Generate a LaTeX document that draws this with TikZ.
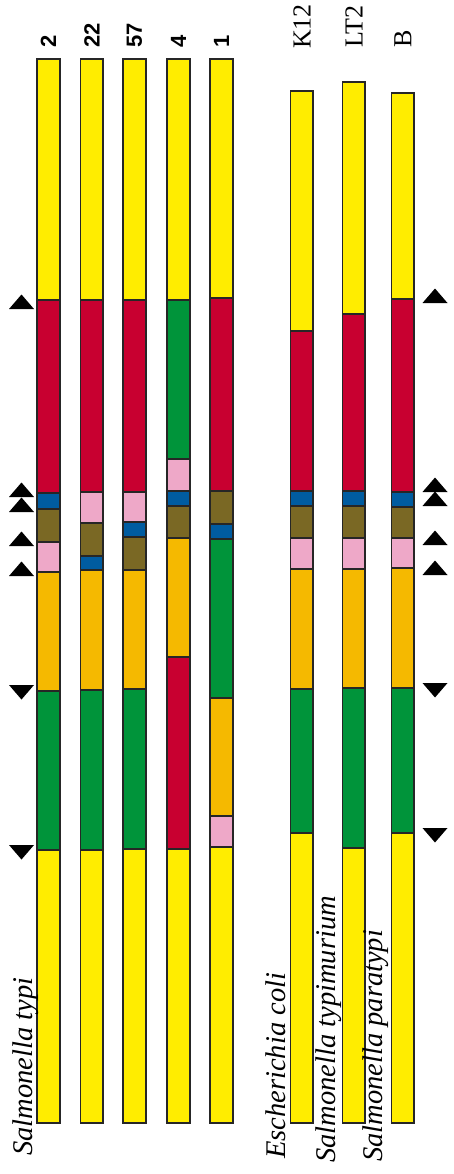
\documentclass[tikz,border=0pt]{standalone}
\usepackage{fontspec}
\setmainfont{Liberation Serif}
\newfontfamily\numfont{Liberation Sans}
\definecolor{cyel}{RGB}{255,237,0}
\definecolor{cred}{RGB}{200,0,48}
\definecolor{cgrn}{RGB}{0,148,58}
\definecolor{corg}{RGB}{245,185,0}
\definecolor{cpnk}{RGB}{238,168,200}
\definecolor{cblu}{RGB}{0,92,160}
\definecolor{colv}{RGB}{122,104,36}
\begin{document}
\begin{tikzpicture}[x=1pt,y=-1pt,
  seg/.style={draw=black!85,line width=1.1pt},
  numlab/.style={rotate=90,anchor=west,inner sep=0pt,font={\numfont\bfseries\fontsize{22}{24}\selectfont}},
  strainlab/.style={rotate=90,anchor=west,inner sep=0pt,font={\fontsize{26}{28}\selectfont}},
  specieslab/.style={rotate=90,anchor=base west,inner sep=0pt,font={\itshape\fontsize{28.5}{30}\selectfont}}]
\useasboundingbox (0,0) rectangle (453,1174);
% labels on top
\node[numlab] (l2) at (48.5,48) {2};
\node[numlab] (l22) at (92,48) {22};
\node[numlab] (l57) at (134.5,48) {57};
\node[numlab] (l4) at (178.5,48) {4};
\node[numlab] (l1) at (221.5,48) {1};
\node[strainlab] (lk12) at (302,49) {K12};
\node[strainlab] (llt2) at (354,48) {LT2};
\node[strainlab] (lb) at (403,48) {B};
% Salmonella typi strains
\foreach \a/\b/\c in {59/300/cyel,300/493/cred,493/509/cblu,509/542/colv,542/572/cpnk,572/691/corg,691/850/cgrn,850/1123/cyel}
  \draw[seg,fill=\c] (37,\a) rectangle (60,\b);
\foreach \a/\b/\c in {59/300/cyel,300/492/cred,492/523/cpnk,523/556/colv,556/570/cblu,570/690/corg,690/850/cgrn,850/1123/cyel}
  \draw[seg,fill=\c] (80.5,\a) rectangle (103,\b);
\foreach \a/\b/\c in {59/300/cyel,300/492/cred,492/522/cpnk,522/537/cblu,537/570/colv,570/689/corg,689/849/cgrn,849/1123/cyel}
  \draw[seg,fill=\c] (123,\a) rectangle (146,\b);
\foreach \a/\b/\c in {59/300/cyel,300/459/cgrn,459/491/cpnk,491/506/cblu,506/538/colv,538/657/corg,657/849/cred,849/1123/cyel}
  \draw[seg,fill=\c] (167,\a) rectangle (190,\b);
\foreach \a/\b/\c in {59/298/cyel,298/491/cred,491/524/colv,524/539/cblu,539/698/cgrn,698/816/corg,816/847/cpnk,847/1123/cyel}
  \draw[seg,fill=\c] (210,\a) rectangle (233,\b);
% other species
\foreach \a/\b/\c in {91/331/cyel,331/491/cred,491/506/cblu,506/538/colv,538/569/cpnk,569/689/corg,689/833/cgrn,833/1123/cyel}
  \draw[seg,fill=\c] (290.5,\a) rectangle (313,\b);
\foreach \a/\b/\c in {82/314/cyel,314/491/cred,491/506/cblu,506/538/colv,538/569/cpnk,569/688/corg,688/848/cgrn,848/1123/cyel}
  \draw[seg,fill=\c] (342.5,\a) rectangle (365,\b);
\foreach \a/\b/\c in {93/299/cyel,299/492/cred,492/507/cblu,507/538/colv,538/568/cpnk,568/688/corg,688/833/cgrn,833/1123/cyel}
  \draw[seg,fill=\c] (391.5,\a) rectangle (414,\b);
% arrowheads left and right
\foreach \y in {309,497,512,546,576}
  \fill (9,\y) -- (34,\y) -- (21.5,{\y-14.5}) -- cycle;
\foreach \y in {685,845}
  \fill (9,\y) -- (34,\y) -- (21.5,{\y+14.5}) -- cycle;
\foreach \y in {303,492,506,545,575}
  \fill (422.5,\y) -- (447.5,\y) -- (435,{\y-14.5}) -- cycle;
\foreach \y in {683,828}
  \fill (422.5,\y) -- (447.5,\y) -- (435,{\y+14.5}) -- cycle;
% species names
\node[specieslab] (styphi) at (32,1156) {Salmonella typi};
\node[specieslab] (ecoli) at (285,1159) {Escherichia coli};
\node[specieslab] (styphim) at (335.5,1163) {Salmonella typimurium};
\node[specieslab] (spara) at (382,1162) {Salmonella paratypi};
\end{tikzpicture}
\end{document}
